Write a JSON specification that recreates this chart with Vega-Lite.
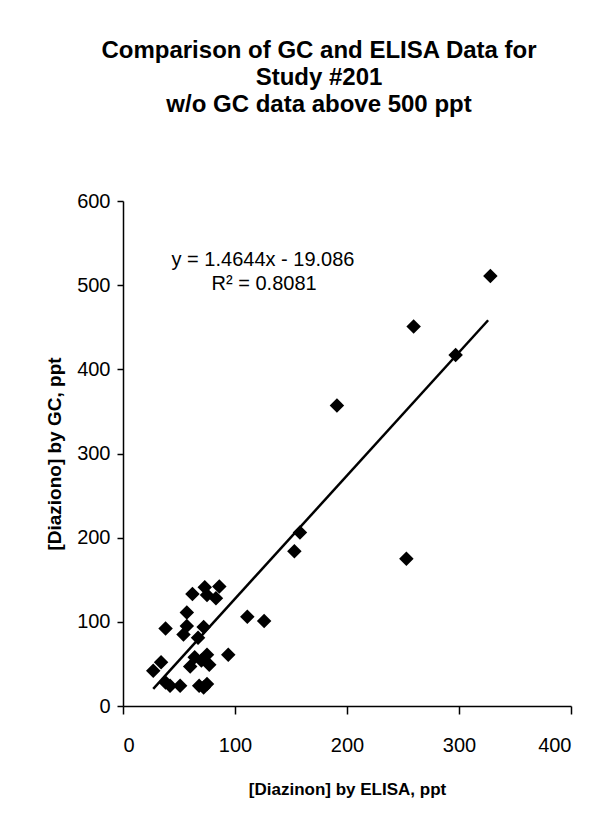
{
  "$schema": "https://vega.github.io/schema/vega-lite/v6.json",
  "width": 448,
  "height": 505,
  "autosize": {"type": "none"},
  "padding": {"left": 123, "top": 201, "right": 33, "bottom": 109},
  "background": "white",
  "config": {
    "view": {"stroke": null},
    "font": "Liberation Sans",
    "axis": {
      "grid": false,
      "domainColor": "black",
      "domainWidth": 1.5,
      "tickColor": "black",
      "tickWidth": 1.5,
      "labelColor": "black",
      "titleColor": "black",
      "labelFont": "Liberation Sans",
      "titleFont": "Liberation Sans",
      "labelFontSize": 20,
      "titleFontSize": 17,
      "titleFontWeight": "bold"
    }
  },
  "title": {
    "text": ["Comparison of GC and ELISA Data for", "Study #201", "w/o GC data above 500 ppt"],
    "font": "Liberation Sans",
    "fontSize": 24,
    "fontWeight": "bold",
    "color": "black",
    "anchor": "middle",
    "frame": "group",
    "dx": -28,
    "offset": 74,
    "lineHeight": 27
  },
  "datasets": {
    "points": [
      {"x": 328, "y": 511}, {"x": 259.5, "y": 451}, {"x": 297, "y": 417}, {"x": 191, "y": 357},
      {"x": 158, "y": 206}, {"x": 153, "y": 184}, {"x": 253, "y": 175}, {"x": 111, "y": 106},
      {"x": 126, "y": 101}, {"x": 94, "y": 61}, {"x": 86, "y": 142}, {"x": 83, "y": 128},
      {"x": 73, "y": 141}, {"x": 75, "y": 132}, {"x": 62, "y": 133}, {"x": 57, "y": 111},
      {"x": 38, "y": 92}, {"x": 57, "y": 95}, {"x": 54, "y": 85}, {"x": 72, "y": 94},
      {"x": 67, "y": 81}, {"x": 64, "y": 58}, {"x": 60, "y": 47}, {"x": 75, "y": 61},
      {"x": 77, "y": 49}, {"x": 70, "y": 54}, {"x": 34, "y": 52}, {"x": 27, "y": 42},
      {"x": 38, "y": 28}, {"x": 42, "y": 24}, {"x": 51, "y": 24}, {"x": 68, "y": 24},
      {"x": 75, "y": 26}, {"x": 72, "y": 22}
    ],
    "trend": [
      {"x": 27, "y": 20.45},
      {"x": 326, "y": 458.3}
    ],
    "eq": [
      {"x": 125, "y": 530, "label": "y = 1.4644x - 19.086"},
      {"x": 126, "y": 501, "label": "R² = 0.8081"}
    ]
  },
  "encoding": {
    "x": {
      "field": "x",
      "type": "quantitative",
      "scale": {"domain": [0, 400], "nice": false, "zero": true},
      "axis": {
        "values": [0, 100, 200, 300, 400],
        "title": "[Diazinon] by ELISA, ppt",
        "tickSize": 8,
        "labelPadding": 21,
        "titlePadding": 26
      }
    },
    "y": {
      "field": "y",
      "type": "quantitative",
      "scale": {"domain": [0, 600], "nice": false, "zero": true},
      "axis": {
        "values": [0, 100, 200, 300, 400, 500, 600],
        "title": "[Diaziono] by GC, ppt",
        "titleFontSize": 19,
        "tickSize": 6,
        "labelPadding": 7,
        "titlePadding": 12
      }
    }
  },
  "layer": [
    {
      "data": {"name": "trend"},
      "mark": {"type": "line", "color": "black", "strokeWidth": 2.5}
    },
    {
      "data": {"name": "points"},
      "mark": {"type": "point", "shape": "diamond", "filled": true, "color": "black", "opacity": 1, "size": 210}
    },
    {
      "data": {"name": "eq"},
      "mark": {"type": "text", "fontSize": 20, "align": "center", "baseline": "middle", "color": "black", "font": "Liberation Sans"},
      "encoding": {"text": {"field": "label", "type": "nominal"}}
    }
  ]
}
